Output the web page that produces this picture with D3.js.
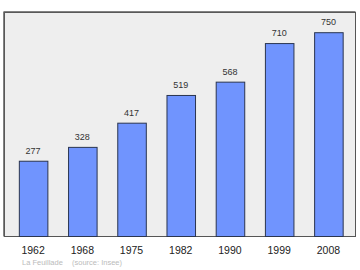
<!DOCTYPE html>
<html><head><meta charset="utf-8">
<script src="https://cdn.jsdelivr.net/npm/d3@7"></script>
<style>body{margin:0;background:#fff}svg{display:block}</style>
</head><body>
<svg id="c" width="360" height="270"></svg>
<script>
const years = ["1962","1968","1975","1982","1990","1999","2008"];
const population = [277,328,417,519,568,710,750];
const place = "La Feuillade";
const source = "(source: Insee)";

const FONT = "Liberation Sans, Arial, sans-serif";
const svg = d3.select("#c");
const box = {l:4.5, t:12.5, r:355.5, b:236.5};
svg.append("rect").attr("x",box.l).attr("y",box.t).attr("width",box.r-box.l).attr("height",box.b-box.t).attr("fill","#eeeeee").attr("stroke","#555").attr("stroke-width",1);
svg.append("path").attr("d",`M${box.l-0.8},${box.b}V${box.t-0.8}H${box.r}`).attr("fill","none").attr("stroke","#666").attr("stroke-width",1);

const x = d3.scaleBand().domain(years).range([8.5,353]).paddingInner(0.42).paddingOuter(0.21);
const y = d3.scaleLinear().domain([0,750]).range([236.5,32.7]);

svg.selectAll("rect.bar").data(population).join("rect").attr("class","bar")
  .attr("x",(d,i)=>x(years[i])+0.5).attr("y",d=>y(d))
  .attr("width",x.bandwidth()).attr("height",d=>y(0)-y(d))
  .attr("fill","#7094fe").attr("stroke","#2a3550").attr("stroke-width",1);

svg.selectAll("text.val").data(population).join("text").attr("class","val")
  .attr("x",(d,i)=>x(years[i])+x.bandwidth()/2).attr("y",d=>y(d)-7.5)
  .attr("text-anchor","middle").attr("font-family",FONT).attr("font-size",9).attr("fill","#333")
  .text(d=>d);

svg.selectAll("text.yr").data(years).join("text").attr("class","yr")
  .attr("x",d=>x(d)+x.bandwidth()/2).attr("y",254)
  .attr("text-anchor","middle").attr("font-family",FONT).attr("font-size",10.5).attr("fill","#222")
  .text(d=>d);

svg.append("text").attr("x",22).attr("y",265).attr("font-family",FONT).attr("font-size",7.5).attr("fill","#bbb").text(place);
svg.append("text").attr("x",72).attr("y",265).attr("font-family",FONT).attr("font-size",7.5).attr("fill","#bbb").text(source);
</script>
</body></html>
